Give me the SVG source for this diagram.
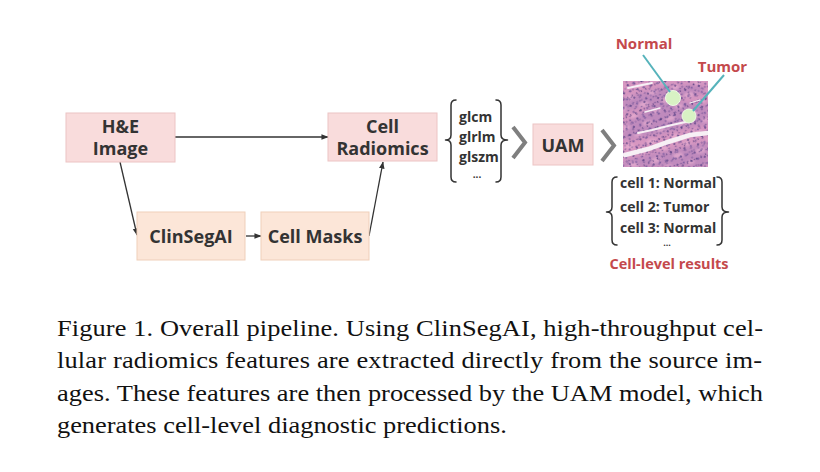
<svg xmlns="http://www.w3.org/2000/svg" width="820" height="472" viewBox="0 0 820 472">
<style>
.pink{fill:#f9dcdc;stroke:#ecc4c4;stroke-width:1}
.peach{fill:#fce6d8;stroke:#efcfba;stroke-width:1}
.lbl{font-family:"Open Sans","Noto Sans",sans-serif;font-weight:700;fill:#333;}
.big{font-size:18px;text-anchor:middle}
.feat{font-size:14px}
.red{font-family:"Open Sans","Noto Sans",sans-serif;font-weight:700;fill:#c4494c;}
.conn{stroke:#333;stroke-width:1.3;fill:none}
.brace{stroke:#333;stroke-width:1.5;fill:none;stroke-linecap:round;stroke-linejoin:round}
.chev{stroke:#7f7f7f;stroke-width:4;fill:none;stroke-linejoin:miter}
.cap{font-family:"Liberation Serif","Times New Roman",serif;font-size:24px;fill:#111}
.teal{stroke:#56b3bb;stroke-width:2;fill:none}
</style>
<defs>
<marker id="ah" viewBox="0 0 8 8" refX="7.5" refY="4" markerWidth="7" markerHeight="7" markerUnits="userSpaceOnUse" orient="auto">
<path d="M0,0.8 L8,4 L0,7.2 Z" fill="#333"/>
</marker>
<clipPath id="tclip"><rect x="623" y="81" width="85" height="86"/></clipPath>
<pattern id="dotsA" width="7" height="6" patternUnits="userSpaceOnUse" patternTransform="rotate(-17)">
<ellipse cx="1.5" cy="1.5" rx="1" ry="0.8" fill="#4e3a82"/>
</pattern>
<pattern id="dotsB" width="11" height="9" patternUnits="userSpaceOnUse" patternTransform="rotate(23) translate(3,2)">
<ellipse cx="3" cy="2" rx="1.1" ry="0.9" fill="#45337a"/>
<ellipse cx="8" cy="6.5" rx="1.2" ry="0.9" fill="#6a4f98"/>
</pattern>
<pattern id="dotsC" width="13" height="10" patternUnits="userSpaceOnUse" patternTransform="rotate(-41) translate(1,5)">
<ellipse cx="6" cy="3" rx="1" ry="0.8" fill="#533d88"/>
<ellipse cx="2" cy="8" rx="0.8" ry="0.7" fill="#4a367e"/>
</pattern>
<pattern id="dotsD" width="17" height="5" patternUnits="userSpaceOnUse" patternTransform="rotate(64) translate(2,1)">
<ellipse cx="4" cy="2.5" rx="0.9" ry="0.8" fill="#3f2d72"/>
<ellipse cx="12" cy="1" rx="0.7" ry="0.7" fill="#5a4490"/>
</pattern>
<pattern id="blotch" width="23" height="19" patternUnits="userSpaceOnUse" patternTransform="rotate(-12) translate(4,3)">
<ellipse cx="6" cy="5" rx="5" ry="2.5" fill="#eab0d2"/>
<ellipse cx="17" cy="14" rx="4" ry="2" fill="#eab0d2"/>
</pattern>
<filter id="soft" x="-20%" y="-20%" width="140%" height="140%"><feGaussianBlur stdDeviation="2"/></filter>
<filter id="soft1" x="-20%" y="-20%" width="140%" height="140%"><feGaussianBlur stdDeviation="0.8"/></filter>
</defs>

<g id="connectors">
<line class="conn" x1="175" y1="137" x2="328" y2="137" marker-end="url(#ah)"/>
<line class="conn" x1="120" y1="162" x2="137" y2="235" marker-end="url(#ah)"/>
<line class="conn" x1="246" y1="236" x2="261" y2="236" marker-end="url(#ah)"/>
<line class="conn" x1="369" y1="236" x2="383" y2="162" marker-end="url(#ah)"/>
</g>

<g id="he-image">
<rect class="pink" x="66" y="113" width="109" height="49"/>
<text class="lbl big" x="120.5" y="133">H&amp;E</text>
<text class="lbl big" x="120.5" y="155">Image</text>
</g>

<g id="cell-radiomics">
<rect class="pink" x="328" y="113" width="109" height="48"/>
<text class="lbl big" x="382.5" y="133">Cell</text>
<text class="lbl big" x="382.5" y="155">Radiomics</text>
</g>

<g id="clinsegai">
<rect class="peach" x="137" y="212" width="108" height="48"/>
<text class="lbl big" x="191" y="243">ClinSegAI</text>
</g>

<g id="cell-masks">
<rect class="peach" x="261" y="212" width="108" height="48"/>
<text class="lbl big" x="315" y="243">Cell Masks</text>
</g>

<g id="features">
<path class="brace" d="M456,100 Q451,100 451,105 L451,135 Q451,140 445.5,140 Q451,140 451,145 L451,177 Q451,182 456,182"/>
<path class="brace" d="M496,100 Q501,100 501,105 L501,135 Q501,140 507.5,140 Q501,140 501,145 L501,177 Q501,182 496,182"/>
<text class="lbl feat" x="459" y="122">glcm</text>
<text class="lbl feat" x="459" y="142">glrlm</text>
<text class="lbl feat" x="459" y="162">glszm</text>
<text class="lbl" x="477" y="178" font-size="10" text-anchor="middle">...</text>
</g>

<g id="chevron-1"><polyline class="chev" points="513,127 525,142.5 513,158"/></g>

<g id="uam">
<rect class="pink" x="533" y="124" width="60" height="41"/>
<text class="lbl big" x="563" y="152">UAM</text>
</g>

<g id="chevron-2"><polyline class="chev" points="602,130 614,145.5 602,161"/></g>

<g id="tissue">
<g clip-path="url(#tclip)">
<rect x="623" y="81" width="85" height="86" fill="#d797c1"/>
<g filter="url(#soft)" fill="#a07ab8" opacity="0.42">
<path d="M623,98 L660,88 L700,84 L708,92 L670,100 L623,112 Z"/>
<path d="M660,100 L708,104 L708,124 L660,134 L623,140 L623,126 Z"/>
<path d="M623,160 L670,150 L708,142 L708,167 L623,167 Z"/>
</g>
<rect x="623" y="81" width="85" height="86" fill="url(#blotch)" opacity="0.7" filter="url(#soft1)"/>
<rect x="623" y="81" width="85" height="86" fill="url(#dotsA)" opacity="0.55"/>
<rect x="623" y="81" width="85" height="86" fill="url(#dotsB)" opacity="0.7"/>
<rect x="623" y="81" width="85" height="86" fill="url(#dotsC)" opacity="0.65"/>
<rect x="623" y="81" width="85" height="86" fill="url(#dotsD)" opacity="0.65"/>
<g fill="none" stroke="#f7f0f5" stroke-linecap="round">
<path d="M708,133 L690,135 L668,142 L648,149 L625,155" stroke-width="4.5"/>
<path d="M690,121 L672,125 L652,130 L638,133" stroke-width="2"/>
<path d="M628,88 L642,85 L652,83" stroke-width="1.8"/>
<path d="M660,108 L645,112" stroke-width="1.4"/>
<path d="M700,100 L690,103" stroke-width="1.2"/>
</g>
</g>
<circle cx="673" cy="98" r="7.5" fill="#d8f2c4" stroke="#eef9e6" stroke-width="1"/>
<circle cx="689" cy="116" r="7" fill="#d8f2c4" stroke="#eef9e6" stroke-width="1"/>
<line class="teal" x1="643" y1="55" x2="670" y2="92"/>
<line class="teal" x1="724" y1="75" x2="693" y2="111"/>
</g>

<g id="labels">
<text class="red" x="644" y="49" font-size="15" text-anchor="middle">Normal</text>
<text class="red" x="722.5" y="72" font-size="15" text-anchor="middle">Tumor</text>
</g>

<g id="results">
<path class="brace" d="M617,177 Q612,177 612,182 L612,207 Q612,212 606.5,212 Q612,212 612,217 L612,240 Q612,245 617,245"/>
<path class="brace" d="M717,177 Q722,177 722,182 L722,207 Q722,212 728.5,212 Q722,212 722,217 L722,240 Q722,245 717,245"/>
<text class="lbl feat" x="620" y="188">cell 1: Normal</text>
<text class="lbl feat" x="620" y="212">cell 2: Tumor</text>
<text class="lbl feat" x="620" y="233">cell 3: Normal</text>
<text class="lbl" x="667" y="246" font-size="9" text-anchor="middle">...</text>
<text class="red" x="669" y="269" font-size="14.5" text-anchor="middle">Cell-level results</text>
</g>

<g id="caption" transform="scale(1.1,1)">
<text class="cap" x="51.8" y="336" textLength="641.8" lengthAdjust="spacing">Figure 1. Overall pipeline. Using ClinSegAI, high-throughput cel-</text>
<text class="cap" x="51.8" y="368.5" textLength="641" lengthAdjust="spacing">lular radiomics features are extracted directly from the source im-</text>
<text class="cap" x="51.8" y="401" textLength="641.8" lengthAdjust="spacing">ages. These features are then processed by the UAM model, which</text>
<text class="cap" x="51.8" y="433">generates cell-level diagnostic predictions.</text>
</g>
</svg>
